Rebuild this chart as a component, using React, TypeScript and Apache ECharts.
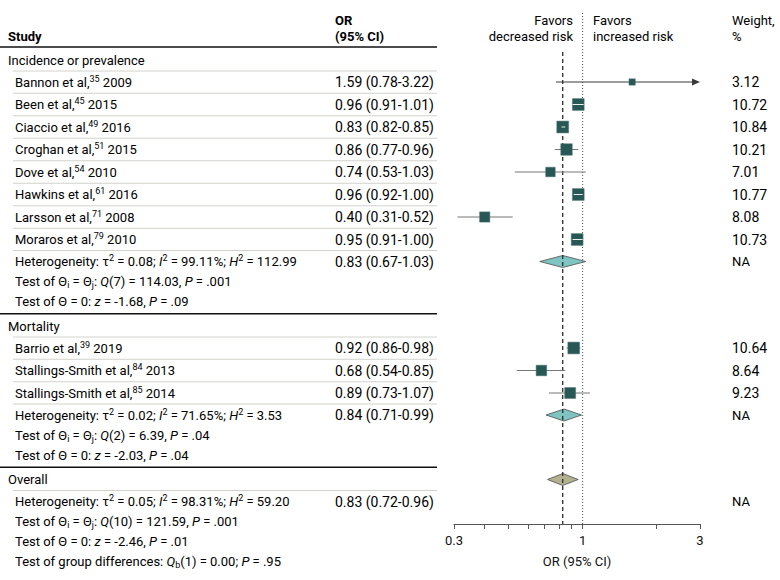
import React, { useEffect, useRef } from 'react';
import * as echarts from 'echarts';

// ---------------- data ----------------
const studyNames = ['Bannon et al', 'Been et al', 'Ciaccio et al', 'Croghan et al', 'Dove et al', 'Hawkins et al', 'Larsson et al', 'Moraros et al', 'Barrio et al', 'Stallings-Smith et al', 'Stallings-Smith et al'];
const studyRefs = ['35', '45', '49', '51', '54', '61', '71', '79', '39', '84', '85'];
const studyYears = ['2009', '2015', '2016', '2015', '2010', '2016', '2008', '2010', '2019', '2013', '2014'];
const studyOR = [1.59, 0.96, 0.83, 0.86, 0.74, 0.96, 0.40, 0.95, 0.92, 0.68, 0.89];
const studyLow = [0.78, 0.91, 0.82, 0.77, 0.53, 0.92, 0.31, 0.91, 0.86, 0.54, 0.73];
const studyHigh = [3.22, 1.01, 0.85, 0.96, 1.03, 1.00, 0.52, 1.00, 0.98, 0.85, 1.07];
const studyWeight = [3.12, 10.72, 10.84, 10.21, 7.01, 10.77, 8.08, 10.73, 10.64, 8.64, 9.23];
const studyGroup = [0, 0, 0, 0, 0, 0, 0, 0, 1, 1, 1];

const groupNames = ['Incidence or prevalence', 'Mortality'];
const groupOR = [0.83, 0.84];
const groupLow = [0.67, 0.71];
const groupHigh = [1.03, 0.99];
const groupTau2 = ['0.08', '0.02'];
const groupI2 = ['99.11', '71.65'];
const groupH2 = ['112.99', '3.53'];
const groupQdf = ['7', '2'];
const groupQ = ['114.03', '6.39'];
const groupQp = ['.001', '.04'];
const groupZ = ['-1.68', '-2.03'];
const groupZp = ['.09', '.04'];

const overallName = 'Overall';
const overallOR = 0.83;
const overallLow = 0.72;
const overallHigh = 0.96;
const overallTau2 = '0.05';
const overallI2 = '98.31';
const overallH2 = '59.20';
const overallQdf = '10';
const overallQ = '121.59';
const overallQp = '.001';
const overallZ = '-2.46';
const overallZp = '.01';
const groupDiffDf = '1';
const groupDiffQ = '0.00';
const groupDiffP = '.95';

const axisTickValues = [0.3, 0.4, 0.5, 0.6, 0.7, 0.8, 0.9, 1, 2, 3];
const axisLabelValues = [0.3, 1, 3];
const axisMin = 0.3;
const axisMax = 3;
const nullValue = 1;

// ---------------- styling / layout ----------------
const W = 780;
const H = 580;
const FONT = 'Roboto, "Noto Sans", "DejaVu Sans", sans-serif';
const TEXT_COLOR = '#000000';
const BASE_SIZE = 13;
const NUM_SIZE = 14;
const LINE_H = 16;
const NORMAL_WEIGHT = 'normal';

const HEADER_Y1 = 20.5;
const HEADER_Y2 = 36.5;
const HEADER_RULE_Y = 47;
const FIRST_ROW_Y = 60;
const STEP_HEADING = 22;
const STEP_STUDY = 22.5;
const STEP_TO_HET = 22;
const STEP_STAT = 20;
const STEP_BLOCK = 24.5;
const AXIS_Y = 524;
const DASH_TOP = 52;
const DOT_TOP = 13;

const X_GROUP = 8;
const X_INDENT = 15;
const X_OR = 335;
const X_WEIGHT = 732;
const X_RULE_END = 437;
const X_LIGHT_START = 13;
const X_FAV_LEFT_END = 573;
const X_FAV_RIGHT_START = 593;
const PLOT_LEFT = 454;
const PLOT_WIDTH = 246;

const SQUARE_COLOR = '#275855';
const CI_COLOR = '#767676';
const ARROW_COLOR = '#3a3a3a';
const DIAMOND_FILL = ['#7ec5c2', '#b1b08f'];
const DIAMOND_STROKE = '#4d4d4d';
const SQUARE_K = 3.6;
const DIAMOND_HALF_H = 6;

const EQ = ' = ';
const lg = (v: number) => Math.log10(v);
const f2 = (v: number) => v.toFixed(2);
const ciText = (o: number, l: number, h: number) => `${f2(o)} (${f2(l)}-${f2(h)})`;
const hetText = (t: string, i2: string, h2: string) =>
  `Heterogeneity: τ{sup|2}${EQ}${t}; {it|I}{sup|2}${EQ}${i2}%; {it|H}{sup|2}${EQ}${h2}`;
const qText = (df: string, q: string, p: string) =>
  `Test of Θ{sub|i}${EQ}Θ{sub|j}: {it|Q}(${df})${EQ}${q}, {it|P}${EQ}${p}`;
const zText = (z: string, p: string) => `Test of Θ${EQ}0: {it|z}${EQ}${z}, {it|P}${EQ}${p}`;

type TextItem = { x: number; y: number; text: string; align: 'left' | 'right'; size: number; bold?: boolean };

const texts: TextItem[] = [];
const rules: number[][] = []; // [x1, x2, y, kind]
const squares: number[][] = []; // [logOR, y, logLo, logHi, weight]
const diamonds: number[][] = []; // [logOR, y, logLo, logHi, kind]

// headers
texts.push({ x: X_GROUP, y: HEADER_Y2, text: 'Study', align: 'left', size: BASE_SIZE, bold: true });
texts.push({ x: X_OR, y: HEADER_Y1, text: 'OR', align: 'left', size: BASE_SIZE, bold: true });
texts.push({ x: X_OR, y: HEADER_Y2, text: '(95% CI)', align: 'left', size: BASE_SIZE, bold: true });
texts.push({ x: X_FAV_LEFT_END, y: HEADER_Y1, text: 'Favors', align: 'right', size: BASE_SIZE });
texts.push({ x: X_FAV_LEFT_END, y: HEADER_Y2, text: 'decreased risk', align: 'right', size: BASE_SIZE });
texts.push({ x: X_FAV_RIGHT_START, y: HEADER_Y1, text: 'Favors', align: 'left', size: BASE_SIZE });
texts.push({ x: X_FAV_RIGHT_START, y: HEADER_Y2, text: 'increased risk', align: 'left', size: BASE_SIZE });
texts.push({ x: X_WEIGHT, y: HEADER_Y1, text: 'Weight,', align: 'left', size: BASE_SIZE });
texts.push({ x: X_WEIGHT, y: HEADER_Y2, text: '%', align: 'left', size: BASE_SIZE });
rules.push([0, X_RULE_END, HEADER_RULE_Y, 1]);

let yPos = FIRST_ROW_Y;
let prevY = 0;
for (let g = 0; g < groupNames.length; g++) {
  texts.push({ x: X_GROUP, y: yPos, text: groupNames[g], align: 'left', size: BASE_SIZE });
  prevY = yPos;
  yPos += STEP_HEADING;
  rules.push([X_LIGHT_START, X_RULE_END, (prevY + yPos) / 2, 0]);
  const members = studyGroup.map((gg, i) => (gg === g ? i : -1)).filter((i) => i >= 0);
  members.forEach((s, k) => {
    texts.push({ x: X_INDENT, y: yPos, text: `${studyNames[s]},{sup|${studyRefs[s]}} ${studyYears[s]}`, align: 'left', size: BASE_SIZE });
    texts.push({ x: X_OR, y: yPos, text: ciText(studyOR[s], studyLow[s], studyHigh[s]), align: 'left', size: NUM_SIZE });
    texts.push({ x: X_WEIGHT, y: yPos, text: f2(studyWeight[s]), align: 'left', size: NUM_SIZE });
    squares.push([lg(studyOR[s]), yPos, lg(studyLow[s]), lg(studyHigh[s]), studyWeight[s]]);
    prevY = yPos;
    yPos += k < members.length - 1 ? STEP_STUDY : STEP_TO_HET;
    rules.push([X_LIGHT_START, X_RULE_END, (prevY + yPos) / 2, 0]);
  });
  texts.push({ x: X_INDENT, y: yPos, text: hetText(groupTau2[g], groupI2[g], groupH2[g]), align: 'left', size: BASE_SIZE });
  texts.push({ x: X_OR, y: yPos, text: ciText(groupOR[g], groupLow[g], groupHigh[g]), align: 'left', size: NUM_SIZE });
  texts.push({ x: X_WEIGHT, y: yPos, text: 'NA', align: 'left', size: BASE_SIZE });
  diamonds.push([lg(groupOR[g]), yPos, lg(groupLow[g]), lg(groupHigh[g]), 0]);
  yPos += STEP_STAT;
  texts.push({ x: X_INDENT, y: yPos, text: qText(groupQdf[g], groupQ[g], groupQp[g]), align: 'left', size: BASE_SIZE });
  yPos += STEP_STAT;
  texts.push({ x: X_INDENT, y: yPos, text: zText(groupZ[g], groupZp[g]), align: 'left', size: BASE_SIZE });
  prevY = yPos;
  yPos += STEP_BLOCK;
  rules.push([0, X_RULE_END, (prevY + yPos) / 2, 1]);
}
texts.push({ x: X_GROUP, y: yPos, text: overallName, align: 'left', size: BASE_SIZE });
diamonds.push([lg(overallOR), yPos, lg(overallLow), lg(overallHigh), 1]);
prevY = yPos;
yPos += STEP_TO_HET;
rules.push([X_LIGHT_START, X_RULE_END, (prevY + yPos) / 2, 0]);
texts.push({ x: X_INDENT, y: yPos, text: hetText(overallTau2, overallI2, overallH2), align: 'left', size: BASE_SIZE });
texts.push({ x: X_OR, y: yPos, text: ciText(overallOR, overallLow, overallHigh), align: 'left', size: NUM_SIZE });
texts.push({ x: X_WEIGHT, y: yPos, text: 'NA', align: 'left', size: BASE_SIZE });
yPos += STEP_STAT;
texts.push({ x: X_INDENT, y: yPos, text: qText(overallQdf, overallQ, overallQp), align: 'left', size: BASE_SIZE });
yPos += STEP_STAT;
texts.push({ x: X_INDENT, y: yPos, text: zText(overallZ, overallZp), align: 'left', size: BASE_SIZE });
yPos += STEP_STAT;
texts.push({
  x: X_INDENT, y: yPos,
  text: `Test of group differences: {it|Q}{sub|b}(${groupDiffDf})${EQ}${groupDiffQ}; {it|P}${EQ}${groupDiffP}`,
  align: 'left', size: BASE_SIZE,
});

const richFor = (s: number) => ({
  sup: { fontSize: Math.round(s * 0.7), fontFamily: FONT, fontStyle: 'normal', fontWeight: NORMAL_WEIGHT, lineHeight: 8, verticalAlign: 'top', fill: TEXT_COLOR },
  sub: { fontSize: Math.round(s * 0.7), fontFamily: FONT, fontStyle: 'normal', fontWeight: NORMAL_WEIGHT, lineHeight: 8, verticalAlign: 'bottom', fill: TEXT_COLOR },
  it: { fontSize: s, fontFamily: FONT, fontStyle: 'italic', fontWeight: NORMAL_WEIGHT, fill: TEXT_COLOR },
});

const XMIN = lg(axisMin);
const XMAX = lg(axisMax);

function buildOption(): any {
  return {
    animation: false,
    backgroundColor: '#ffffff',
    grid: [
      { left: PLOT_LEFT, width: PLOT_WIDTH, top: 0, height: AXIS_Y, outerBoundsMode: 'none', containLabel: false },
      { left: 0, width: W, top: 0, height: H, outerBoundsMode: 'none', containLabel: false },
    ],
    xAxis: [
      {
        gridIndex: 0, type: 'value', min: XMIN, max: XMAX,
        axisLine: { show: true, onZero: false, lineStyle: { color: '#555', width: 1 } },
        axisTick: { show: true, customValues: axisTickValues.map(lg), length: 5, lineStyle: { color: '#555', width: 1 } },
        axisLabel: {
          show: true, customValues: axisLabelValues.map(lg),
          formatter: (v: number) => String(+Math.pow(10, v).toPrecision(2)),
          color: '#111', fontSize: 13, fontFamily: FONT, margin: 10,
        },
        splitLine: { show: false },
        name: 'OR (95% CI)', nameLocation: 'middle', nameGap: 31,
        nameTextStyle: { color: '#111', fontSize: 13, fontFamily: FONT },
      },
      { gridIndex: 1, type: 'value', min: 0, max: W, show: false },
    ],
    yAxis: [
      { gridIndex: 0, type: 'value', min: 0, max: AXIS_Y, inverse: true, show: false },
      { gridIndex: 1, type: 'value', min: 0, max: H, inverse: true, show: false },
    ],
    series: [
      {
        type: 'custom', name: 'rules', xAxisIndex: 1, yAxisIndex: 1, silent: true, z: 1,
        data: rules,
        renderItem: (params: any, api: any) => {
          const a = api.coord([api.value(0), api.value(2)]);
          const b = api.coord([api.value(1), api.value(2)]);
          const thick = api.value(3) === 1;
          return {
            type: 'line',
            shape: { x1: a[0], y1: a[1], x2: b[0], y2: b[1] },
            style: { stroke: thick ? '#111' : '#d2d2cc', lineWidth: thick ? 1.5 : 1 },
          };
        },
      },
      {
        type: 'custom', name: 'texts', xAxisIndex: 1, yAxisIndex: 1, silent: true, z: 2,
        data: texts.map((t) => [t.x, t.y]),
        renderItem: (params: any, api: any) => {
          const t = texts[params.dataIndex];
          const p = api.coord([api.value(0), api.value(1)]);
          return {
            type: 'text', x: p[0], y: p[1],
            style: {
              legacy: false,
              text: t.text, fill: TEXT_COLOR,
              fontSize: t.size, fontFamily: FONT, fontWeight: t.bold ? 'bold' : NORMAL_WEIGHT, fontStyle: 'normal',
              align: t.align, verticalAlign: 'middle', lineHeight: LINE_H,
              rich: richFor(t.size),
            },
          };
        },
      },
      {
        type: 'custom', name: 'diamonds', xAxisIndex: 0, yAxisIndex: 0, silent: true, z: 3,
        data: diamonds,
        renderItem: (params: any, api: any) => {
          const c = api.coord([api.value(0), api.value(1)]);
          const l = api.coord([api.value(2), api.value(1)]);
          const h = api.coord([api.value(3), api.value(1)]);
          const kind = api.value(4);
          return {
            type: 'polygon',
            shape: { points: [[l[0], c[1]], [c[0], c[1] - DIAMOND_HALF_H], [h[0], c[1]], [c[0], c[1] + DIAMOND_HALF_H]] },
            style: { fill: DIAMOND_FILL[kind], stroke: DIAMOND_STROKE, lineWidth: 0.8 },
          };
        },
      },
      {
        type: 'line', name: 'overall', xAxisIndex: 0, yAxisIndex: 0, silent: true, z: 4,
        symbol: 'none',
        data: [[lg(overallOR), DASH_TOP], [lg(overallOR), AXIS_Y]],
        lineStyle: { color: '#2b2b2b', width: 1.3, type: [4, 3] },
      },
      {
        type: 'line', name: 'null', xAxisIndex: 0, yAxisIndex: 0, silent: true, z: 4,
        symbol: 'none',
        data: [[lg(nullValue), DOT_TOP], [lg(nullValue), AXIS_Y]],
        lineStyle: { color: '#555', width: 1, type: [1, 2] },
      },
      {
        type: 'custom', name: 'studies', xAxisIndex: 0, yAxisIndex: 0, silent: true, z: 5,
        data: squares,
        renderItem: (params: any, api: any) => {
          const xv = api.value(0);
          const yv = api.value(1);
          const lo = api.value(2);
          const hi = api.value(3);
          const w = api.value(4);
          const c = api.coord([xv, yv]);
          const pl = api.coord([Math.max(lo, XMIN), yv]);
          const ph = api.coord([Math.min(hi, XMAX), yv]);
          const s = SQUARE_K * Math.sqrt(w);
          const children: any[] = [];
          const inside = pl[0] >= c[0] - s / 2 && ph[0] <= c[0] + s / 2;
          const arrow = hi > XMAX;
          if (!inside) {
            children.push({
              type: 'line',
              shape: { x1: pl[0], y1: pl[1], x2: arrow ? ph[0] - 6 : ph[0], y2: ph[1] },
              style: { stroke: arrow ? ARROW_COLOR : CI_COLOR, lineWidth: 1 },
            });
          }
          if (arrow) {
            children.push({
              type: 'polygon',
              shape: { points: [[ph[0], ph[1]], [ph[0] - 8, ph[1] - 3.5], [ph[0] - 8, ph[1] + 3.5]] },
              style: { fill: ARROW_COLOR },
            });
          }
          children.push({
            type: 'rect',
            shape: { x: c[0] - s / 2, y: c[1] - s / 2, width: s, height: s },
            style: { fill: SQUARE_COLOR, stroke: '#4f7573', lineWidth: 0.5 },
          });
          if (inside) {
            children.push({
              type: 'line',
              shape: { x1: pl[0], y1: pl[1], x2: ph[0], y2: ph[1] },
              style: { stroke: '#e8efee', lineWidth: 1 },
            });
          }
          return { type: 'group', children };
        },
      },
    ],
  };
}

export default function App() {
  const ref = useRef<HTMLDivElement>(null);
  useEffect(() => {
    if (!ref.current) return;
    const chart = echarts.init(ref.current, null, { renderer: 'svg', width: W, height: H });
    chart.setOption(buildOption());
    return () => chart.dispose();
  }, []);
  return (
    <div
      ref={ref}
      style={{ position: 'fixed', left: 0, top: 0, width: W, height: H, background: '#fff' }}
    />
  );
}
